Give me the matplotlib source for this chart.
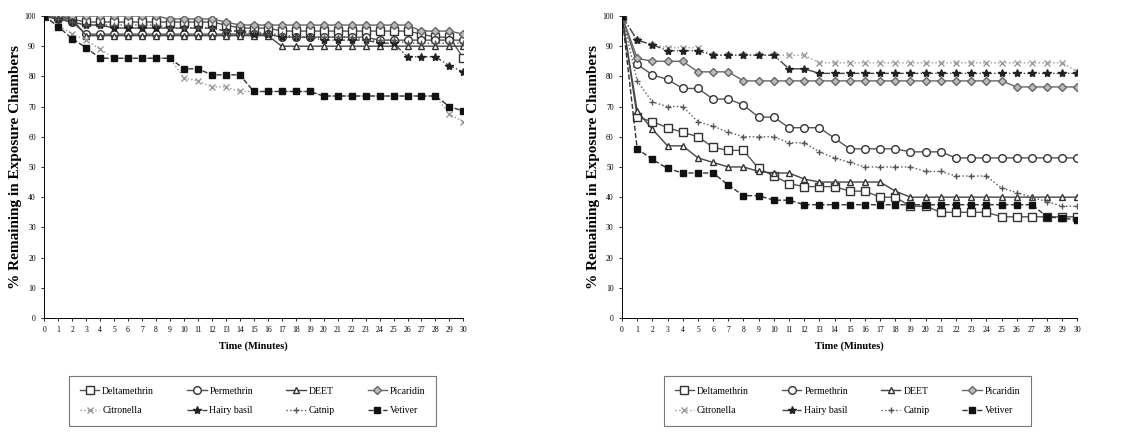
import numpy as np
import matplotlib
matplotlib.use("Agg")
import matplotlib.pyplot as plt

plt.rcParams['font.family'] = ['Liberation Serif', 'DejaVu Serif']

minutes = list(range(31))
names = ["Deltamethrin", "Permethrin", "DEET", "Picaridin",
         "Citronella", "Hairy basil", "Catnip", "Vetiver"]

# left panel (% remaining)
left_deltamethrin = [100, 100, 99, 98, 98, 98, 98, 98, 98, 98, 98, 98, 98, 97, 96, 96,
                     96, 95, 95, 95, 95, 95, 95, 95, 95, 95, 95, 94, 93, 93, 86]
left_permethrin = [100, 99, 98, 94, 94, 94, 94, 94, 94, 94, 94, 94, 94, 94, 94, 94,
                   94, 93, 93, 93, 93, 93, 93, 93, 92, 92, 92, 92, 92, 92, 92]
left_deet = [100, 99, 99, 93.5, 93.5, 93.5, 93.5, 93.5, 93.5, 93.5, 93.5, 93.5, 93.5, 93.5, 93.5, 93.5,
             93.5, 90, 90, 90, 90, 90, 90, 90, 90, 90, 90, 90, 90, 90, 90]
left_picaridin = [100, 100, 100, 100, 100, 100, 100, 100, 100, 99, 99, 99, 99, 98, 97, 97,
                  97, 97, 97, 97, 97, 97, 97, 97, 97, 97, 97, 95, 95, 95, 94]
left_citronella = [100, 97, 94, 92, 89, 86, 86, 86, 86, 86, 79.5, 78.5, 76.5, 76.5, 75, 75,
                   75, 75, 75, 75, 73.5, 73.5, 73.5, 73.5, 73.5, 73.5, 73.5, 73.5, 73.5, 67.5, 65]
left_hairy_basil = [100, 99, 98, 97, 97, 96, 96, 96, 96, 96, 96, 96, 96, 95, 95, 94,
                    94, 93, 93, 93, 92, 92, 92, 92, 91, 91, 86.5, 86.5, 86.5, 83.5, 81.5]
left_catnip = [100, 99, 98, 97, 97, 97, 97, 97, 97, 96, 96, 96, 96, 95, 95, 95,
               94, 94, 93, 93, 93, 93, 93, 92, 92, 92, 91, 91, 91, 91, 91]
left_vetiver = [100, 96.5, 92.5, 89.5, 86, 86, 86, 86, 86, 86, 82.5, 82.5, 80.5, 80.5, 80.5, 75,
                75, 75, 75, 75, 73.5, 73.5, 73.5, 73.5, 73.5, 73.5, 73.5, 73.5, 73.5, 70, 68.5]

# right panel (% remaining)
right_deltamethrin = [100, 66.5, 65, 63, 61.5, 60, 56.5, 55.5, 55.5, 49.5, 47, 44.5, 43.5, 43.5, 43.5, 42,
                      42, 40, 40, 37, 37, 35, 35, 35, 35, 33.5, 33.5, 33.5, 33.5, 33.5, 33.5]
right_permethrin = [100, 84, 80.5, 79, 76, 76, 72.5, 72.5, 70.5, 66.5, 66.5, 63, 63, 63, 59.5, 56,
                    56, 56, 56, 55, 55, 55, 53, 53, 53, 53, 53, 53, 53, 53, 53]
right_deet = [100, 68.5, 62.5, 57, 57, 53, 51.5, 50, 50, 48.5, 48, 48, 46, 45, 45, 45,
              45, 45, 42, 40, 40, 40, 40, 40, 40, 40, 40, 40, 40, 40, 40]
right_picaridin = [100, 86, 85, 85, 85, 81.5, 81.5, 81.5, 78.5, 78.5, 78.5, 78.5, 78.5, 78.5, 78.5, 78.5,
                   78.5, 78.5, 78.5, 78.5, 78.5, 78.5, 78.5, 78.5, 78.5, 78.5, 76.5, 76.5, 76.5, 76.5, 76.5]
right_citronella = [100, 92, 90.5, 89.5, 89.5, 89.5, 87, 87, 87, 87, 87, 87, 87, 84.5, 84.5, 84.5,
                    84.5, 84.5, 84.5, 84.5, 84.5, 84.5, 84.5, 84.5, 84.5, 84.5, 84.5, 84.5, 84.5, 84.5, 81.5]
right_hairy_basil = [100, 92, 90.5, 88.5, 88.5, 88.5, 87, 87, 87, 87, 87, 82.5, 82.5, 81, 81, 81,
                     81, 81, 81, 81, 81, 81, 81, 81, 81, 81, 81, 81, 81, 81, 81]
right_catnip = [100, 78.5, 71.5, 70, 70, 65, 63.5, 61.5, 60, 60, 60, 58, 58, 55, 53, 51.5,
                50, 50, 50, 50, 48.5, 48.5, 47, 47, 47, 43, 41.5, 40, 38.5, 37, 37]
right_vetiver = [100, 56, 52.5, 49.5, 48, 48, 48, 44, 40.5, 40.5, 39, 39, 37.5, 37.5, 37.5, 37.5,
                 37.5, 37.5, 37.5, 37.5, 37.5, 37.5, 37.5, 37.5, 37.5, 37.5, 37.5, 37.5, 33.5, 33, 32.5]

left_data = [left_deltamethrin, left_permethrin, left_deet, left_picaridin,
             left_citronella, left_hairy_basil, left_catnip, left_vetiver]
right_data = [right_deltamethrin, right_permethrin, right_deet, right_picaridin,
              right_citronella, right_hairy_basil, right_catnip, right_vetiver]

styles = [
    dict(marker='s', ls='-', color='#555555', mfc='white', mec='#333333', ms=5.5),
    dict(marker='o', ls='-', color='#555555', mfc='white', mec='#333333', ms=5.5),
    dict(marker='^', ls='-', color='#444444', mfc='white', mec='#333333', ms=5),
    dict(marker='D', ls='-', color='#666666', mfc='#bbbbbb', mec='#666666', ms=4),
    dict(marker='x', ls=':', color='#999999', mfc='#999999', mec='#999999', ms=4.5),
    dict(marker='*', ls='-.', color='#444444', mfc='#222222', mec='#222222', ms=6),
    dict(marker='+', ls=':', color='#555555', mfc='#555555', mec='#555555', ms=5),
    dict(marker='s', ls='--', color='#333333', mfc='#111111', mec='#111111', ms=4),
]

fig = plt.figure(figsize=(11.33, 4.32), dpi=100)
ax_l = fig.add_axes([0.039, 0.264, 0.370, 0.699])
ax_r = fig.add_axes([0.549, 0.264, 0.402, 0.699])

for ax, data in [(ax_l, left_data), (ax_r, right_data)]:
    for name, vals, st in zip(names, data, styles):
        ax.plot(minutes, vals, label=name, lw=1, **st)
    ax.set_xlim(0, 30)
    ax.set_ylim(0, 100)
    ax.set_xticks(minutes)
    ax.set_yticks(range(0, 101, 10))
    ax.tick_params(labelsize=5.5, length=2, width=0.6, pad=4)
    for s in ['top', 'right']:
        ax.spines[s].set_visible(False)
    for s in ['left', 'bottom']:
        ax.spines[s].set_linewidth(0.7)
    ax.set_xlabel('Time (Minutes)', fontsize=7.5, fontweight='bold', labelpad=5)
    ax.set_ylabel('% Remaining in Exposure Chambers', fontsize=11, fontweight='bold', labelpad=2)

# legend filled row by row
handles, labels = ax_l.get_legend_handles_labels()
order = [0, 4, 1, 5, 2, 6, 3, 7]
handles = [handles[i] for i in order]
labels = [labels[i] for i in order]
for cx in [0.223, 0.748]:
    leg = fig.legend(handles, labels, loc='center', bbox_to_anchor=(cx, 0.072), ncol=4,
                     fontsize=7, frameon=True, fancybox=False, edgecolor='#555555',
                     handlelength=2.0, columnspacing=3.4, borderpad=1.1, labelspacing=1.1,
                     handletextpad=0.3)
    leg.get_frame().set_linewidth(0.8)

fig.savefig('out.png', dpi=100)
